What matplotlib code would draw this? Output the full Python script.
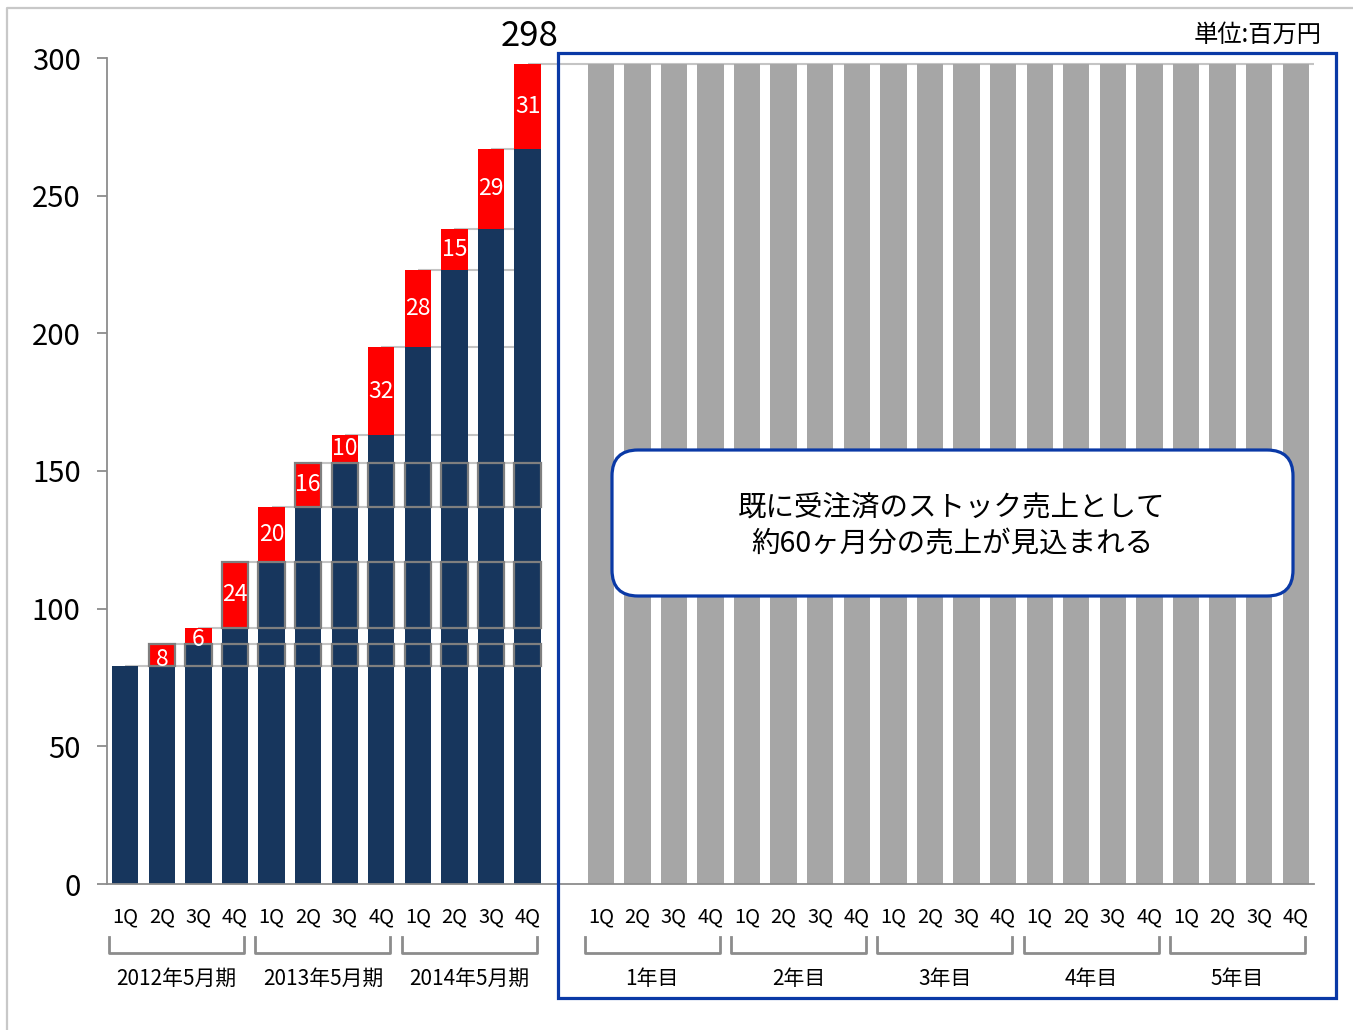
import matplotlib
matplotlib.use("Agg")
import matplotlib.pyplot as plt
from matplotlib.patches import Rectangle, FancyBboxPatch
from matplotlib.lines import Line2D
import numpy as np

plt.rcParams['font.family'] = ['Noto Sans CJK JP', 'DejaVu Sans']

# ---- data ----
quarters = ['1Q', '2Q', '3Q', '4Q']
past_periods = ['2012年5月期', '2013年5月期', '2014年5月期']
future_periods = ['1年目', '2年目', '3年目', '4年目', '5年目']

start_value = 79
increments = [8, 6, 24, 20, 16, 10, 32, 28, 15, 29, 31]
total_label = 298
stock_value = 298
stock_blocks = [1, 3, 5]          # quarters whose increment is outlined as a block
yticks = [0, 50, 100, 150, 200, 250, 300]
unit_label = '単位:百万円'
callout = '既に受注済のストック売上として\n約60ヶ月分の売上が見込まれる'

NAVY = '#17365D'
RED = '#FF0000'
GREY_BAR = '#A6A6A6'
EDGE = '#7F7F7F'
LINE = '#C4C4C4'
BLUE = '#0A39A6'

W, H = 1353, 1030
fig = plt.figure(figsize=(W / 100, H / 100), dpi=100)
fig.patch.set_facecolor('white')

ax = fig.add_axes([107 / W, 1 - 884 / H, (1314 - 107) / W, 826 / H])

tops = np.concatenate([[start_value], start_value + np.cumsum(increments)])
n_past = len(tops)
x_past = np.arange(n_past)
x_future = np.arange(n_past + 1, n_past + 1 + 4 * len(future_periods))
bw = 0.72

# connector lines at each cumulative level
for i in range(n_past - 1):
    ax.hlines(tops[i], i, n_past - 1 + bw / 2, color=LINE, lw=1.5, zorder=1)
ax.hlines(stock_value, n_past - 1, x_future[-1] + 0.5, color=LINE, lw=1.5, zorder=1)

# navy base + red increment
base = np.concatenate([[tops[0]], tops[:-1]])
inc = np.concatenate([[0], increments])
ax.bar(x_past, base, width=bw, color=NAVY, zorder=2)
ax.bar(x_past[1:], inc[1:], bottom=base[1:], width=bw, color=RED, zorder=2)

for i in range(1, n_past):
    frac = 0.5 if inc[i] >= 10 else 0.3
    ax.text(x_past[i], base[i] + inc[i] * frac, str(inc[i]), color='white',
            ha='center', va='center', fontsize=16.5, zorder=5)

# outlined stock blocks carried forward
for k in stock_blocks:
    lo, hi = tops[k - 1], tops[k]
    for j in range(k, n_past):
        ax.add_patch(Rectangle((x_past[j] - bw / 2, lo), bw, hi - lo, fill=False,
                               edgecolor=EDGE, lw=1.6, zorder=4))

# future stock revenue
ax.bar(x_future, [stock_value] * len(x_future), width=bw, color=GREY_BAR, zorder=2)

ax.set_xlim(-0.5, x_future[-1] + 0.5)
ax.set_ylim(0, 300)
ax.set_yticks(yticks)
ax.set_xticks([])
for s in ['top', 'right']:
    ax.spines[s].set_visible(False)
for s in ['left', 'bottom']:
    ax.spines[s].set_color('#8C8C8C')
    ax.spines[s].set_linewidth(1.3)
ax.tick_params(axis='y', length=7, width=1.3, color='#8C8C8C', pad=12, labelsize=21)

# quarter labels, brackets and period names
tr = ax.get_xaxis_transform()
groups = [(x_past[g * 4:(g + 1) * 4], name) for g, name in enumerate(past_periods)]
groups += [(x_future[g * 4:(g + 1) * 4], name) for g, name in enumerate(future_periods)]
for xs, name in groups:
    for xq, q in zip(xs, quarters):
        ax.text(xq, -0.040, q, transform=tr, ha='center', va='center', fontsize=14.5)
    x0, x1 = xs[0] - 0.44, xs[-1] + 0.25
    ax.add_line(Line2D([x0, x0, x1, x1], [-0.064, -0.0835, -0.0835, -0.064], transform=tr,
                       color='#8C8C8C', lw=2, clip_on=False, solid_joinstyle='round'))
    ax.text((x0 + x1) / 2, -0.115, name, transform=tr, ha='center', va='center', fontsize=15)

# overlay in pixel units for frame and callouts
ov = fig.add_axes([0, 0, 1, 1], zorder=5)
ov.set_xlim(0, W)
ov.set_ylim(H, 0)
ov.axis('off')

ov.plot([7, 7, W], [H, 8, 8], color='#C8C8C8', lw=1.6)
ov.add_patch(Rectangle((558, 53), 1336 - 558, 998 - 53, fill=False, edgecolor=BLUE, lw=2.3))
ov.add_patch(FancyBboxPatch((612, 450), 1293 - 612, 596 - 450,
                            boxstyle='round,pad=0,rounding_size=26',
                            facecolor='white', edgecolor=BLUE, lw=2.3))
ov.text(952, 526, callout, ha='center', va='center', fontsize=20.5, linespacing=1.3)
ov.text(530, 36, str(total_label), ha='center', va='center', fontsize=25)
ov.text(1322, 35, unit_label, ha='right', va='center', fontsize=17.5)

fig.savefig('out.png', dpi=100)
